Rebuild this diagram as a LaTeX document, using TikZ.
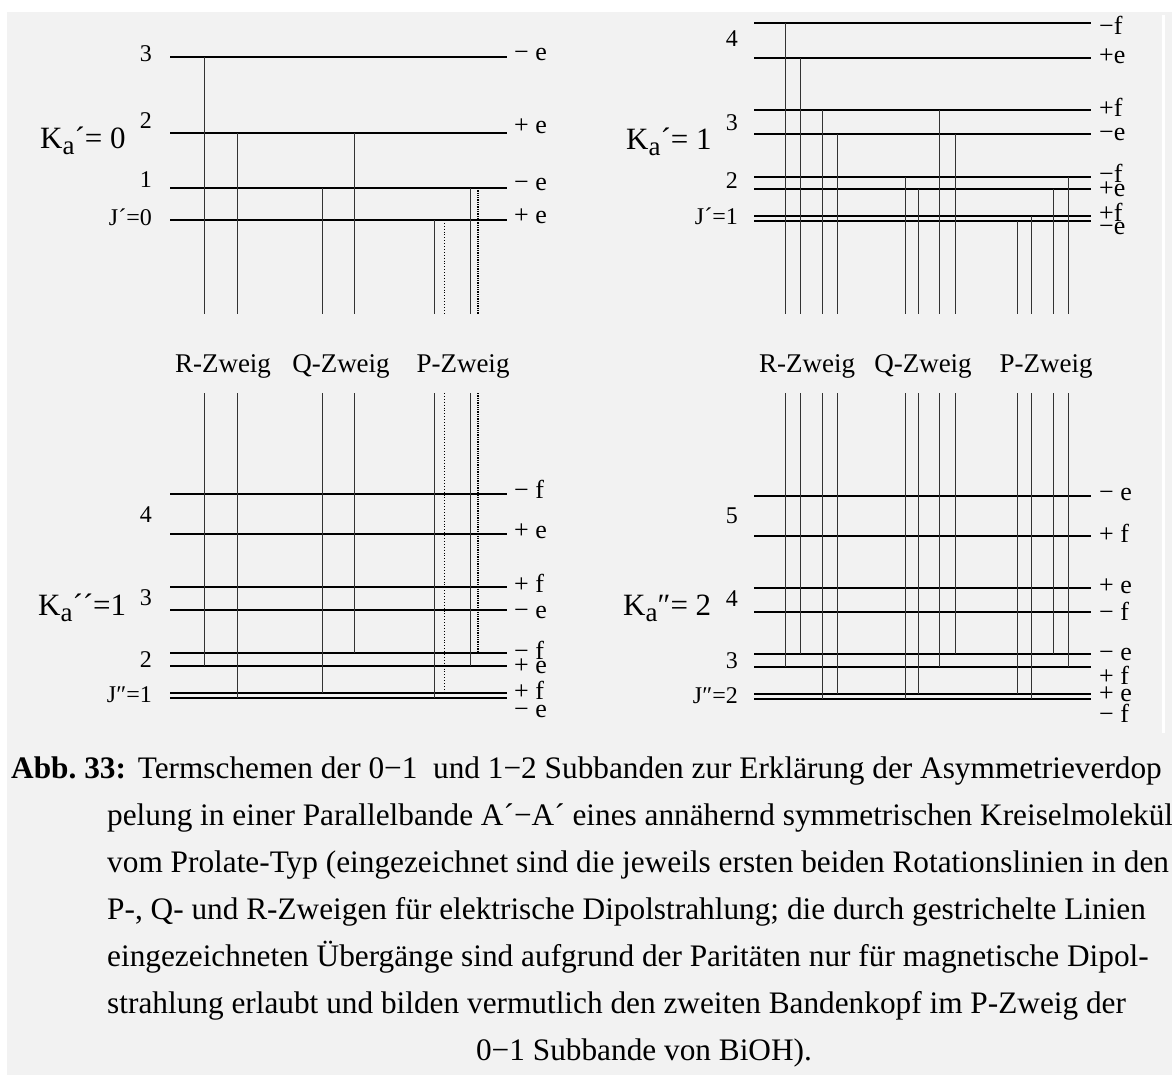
\documentclass[tikz,border=0pt]{standalone}
\usepackage{fontspec}
\setmainfont{Liberation Serif}
\usetikzlibrary{positioning}
\definecolor{paper}{RGB}{242,242,242}
\newcommand{\fsz}[1]{\fontsize{#1}{#1}\selectfont}
\newcommand{\suba}{\raisebox{-6pt}{\fsz{27}a}}
\frenchspacing

\begin{document}
\begin{tikzpicture}[x=1pt,y=-1pt]
  \tikzstyle{level}=[line width=2.8pt]
  \tikzstyle{trans}=[line width=0.9pt,black!80]
  \tikzstyle{mdip}=[line width=0.9pt,dotted]
  \tikzstyle{mdipd}=[line width=1.3pt,densely dotted]
  \tikzstyle{par}=[anchor=base west,inner sep=0pt,font=\fsz{26}]
  \tikzstyle{jnum}=[anchor=base east,inner sep=0pt,font=\fsz{24}]
  \tikzstyle{kalab}=[anchor=base west,inner sep=0pt,font=\fsz{31}]
  \tikzstyle{branch}=[anchor=base,inner sep=0pt,font=\fsz{27}]
  \tikzstyle{captext}=[anchor=base west,inner sep=0pt,font=\fsz{31.3}]
  \useasboundingbox (0,0) rectangle (1172,1075);
  \fill[white] (0,0) rectangle (1172,1075);
  \fill[paper] (7,12) rectangle (1172,1075);
  \fill[white] (1162,15) rectangle (1165,733);

  \coordinate (gapT) at (0,314);
  \coordinate (gapB) at (0,393);

  % term levels
  \foreach \n/\y in {a3/57,a2/133,a1/188,a0/220,c4f/494,c4e/534,c3f/587,c3e/610,c2f/653,c2e/666,c1f/693,c1e/698}
    \draw[level] (170,\y) coordinate (\n) -- (507,\y);
  \foreach \n/\y in {b4f/23,b4e/58,b3f/110,b3e/134,b2f/177,b2e/189,b1f/216,b1e/221,d5e/496,d5f/536,d4e/588,d4f/612,d3e/654,d3f/667,d2e/694,d2f/699}
    \draw[level] (754,\y) coordinate (\n) -- (1091,\y);

  % transitions
  \foreach \x/\u/\l in {204/a3/c2e,237/a2/c1e,322/a1/c1f,354/a2/c2f,434/a0/c1e,470/a1/c2e,
      785/b4f/d3f,800/b4e/d3e,822/b3f/d2f,837/b3e/d2e,905/b2f/d2f,918/b2e/d2e,
      939/b3f/d3f,955/b3e/d3e,1017/b1e/d2e,1031/b1f/d2f,1053/b2e/d3e,1068/b2f/d3f}
    \draw[trans] (\x,0 |- \u) -- (\x,0 |- gapT) (\x,0 |- gapB) -- (\x,0 |- \l);
  \draw[mdip] (444,0 |- a0) -- (444,0 |- gapT) (444,0 |- gapB) -- (444,0 |- c1f);
  \draw[mdipd] (478,0 |- a1) -- (478,0 |- gapT) (478,0 |- gapB) -- (478,0 |- c2f);

  % parities
  \foreach \y/\t [count=\i] in {61/− e,134/+ e,191/− e,224/+ e}
    \node[par] (pa\i) at (514,\y) {\t};
  \foreach \y/\t [count=\i] in {35/−f,64/+e,117/+f,141/−e,183/−f,197/+e,222/+f,235/−e}
    \node[par] (pb\i) at (1099,\y) {\t};
  \foreach \y/\t [count=\i] in {498/− f,538/+ e,592/+ f,618/− e,659/− f,673/+ e,699/+ f,717/− e}
    \node[par] (pc\i) at (514,\y) {\t};
  \foreach \y/\t [count=\i] in {500/− e,542/+ f,593/+ e,620/− f,660/− e,684/+ f,701/+ e,722/− f}
    \node[par] (pd\i) at (1099,\y) {\t};

  % J numbers
  \foreach \y/\t [count=\i] in {62/3,129/2,188/1,226/J´=0}
    \node[jnum] (ja\i) at (152,\y) {\t};
  \foreach \y/\t [count=\i] in {47/4,131/3,189/2,225/J´=1}
    \node[jnum] (jb\i) at (738,\y) {\t};
  \foreach \y/\t [count=\i] in {522/4,605/3,667/2,702/J″=1}
    \node[jnum] (jc\i) at (152,\y) {\t};
  \foreach \y/\t [count=\i] in {523/5,606/4,668/3,703/J″=2}
    \node[jnum] (jd\i) at (738,\y) {\t};

  \node[kalab] (ka) at (40,149) {K\suba´= 0};
  \node[kalab] (kb) at (626,150) {K\suba´= 1};
  \node[kalab] (kc) at (38,615) {K\suba´´=1};
  \node[kalab] (kd) at (623,615) {K\suba″= 2};

  \node[branch] (rz) at (223,372) {R-Zweig};
  \node[branch] (qz) at (341,372) {Q-Zweig};
  \node[branch] (pz) at (463,372) {P-Zweig};
  \node[branch] (rz2) at (807,372) {R-Zweig};
  \node[branch] (qz2) at (923,372) {Q-Zweig};
  \node[branch] (pz2) at (1046,372) {P-Zweig};

  % caption
  \node[captext] (cap1) at (11,778) {\textbf{Abb. 33:}\kern4pt\ Termschemen der 0−1 \ und 1−2 Subbanden zur Erklärung der Asymmetrieverdop};
  \node[captext] (cap2) at (107,825) {pelung in einer Parallelbande A´−A´ eines annähernd symmetrischen Kreiselmoleküls};
  \node[captext] (cap3) at (107,872) {vom Prolate-Typ (eingezeichnet sind die jeweils ersten beiden Rotationslinien in den};
  \node[captext] (cap4) at (107,919) {P-, Q- und R-Zweigen für elektrische Dipolstrahlung; die durch gestrichelte Linien};
  \node[captext] (cap5) at (107,966) {eingezeichneten Übergänge sind aufgrund der Paritäten nur für magnetische Dipol-};
  \node[captext] (cap6) at (107,1013) {strahlung erlaubt und bilden vermutlich den zweiten Bandenkopf im P-Zweig der};
  \node[captext,anchor=base] (cap7) at (644,1060) {0−1 Subbande von BiOH).};
\end{tikzpicture}
\end{document}
